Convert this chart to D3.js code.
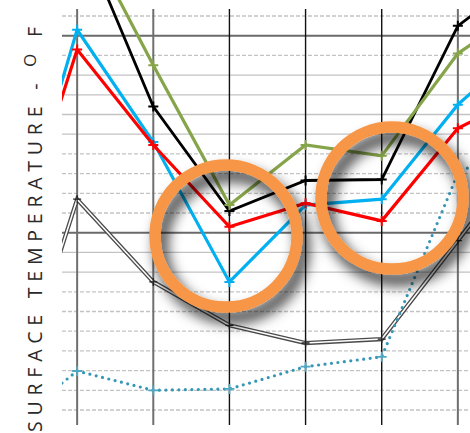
<!DOCTYPE html>
<html>
<head>
<meta charset="utf-8">
<script src="https://cdn.jsdelivr.net/npm/d3@7/dist/d3.min.js"></script>
<style>
  html, body { margin: 0; padding: 0; background: #fff; }
  svg { display: block; }
</style>
</head>
<body>
<div id="chart"></div>
<script>
// ---------- DATA ----------
const categories = [0, 1, 2, 3, 4, 5, 6, 7];
const blueValues  = [67.2, 80.3, 74.6, 67.5, 71.4, 71.7, 76.5, 79.9];
const redValues   = [67.2, 79.3, 74.45, 70.3, 71.5, 70.6, 75.3, 77.2];
const blackValues = [85.0, 85.6, 76.4, 71.1, 72.65, 72.7, 80.5, 83.4];
const greenValues = [86.0, 85.9, 78.5, 71.4, 74.45, 73.9, 79.1, 81.7];
const grayValues  = [59.6, 71.7, 67.5, 65.3, 64.4, 64.6, 69.6, 74.65];
const dottedValues = [59.9, 62.98, 62.0, 62.07, 63.2, 63.7, 73.0, 75.2];
const gridValues = d3.range(81, 60, -1);          // 81 .. 61
const majorGrid = [80, 70];
const verticalCats = [1, 2, 3, 4, 5, 6];
const highlightCats = [[2.955, 69.83], [5.135, 71.76]]; // ring centres (category, value)
const axisTitle = "SURFACE TEMPERATURE - ";
const axisTitleSup = "O";
const axisTitleEnd = "F";

// ---------- LAYOUT ----------
const W = 470, H = 433;
const svg = d3.select("#chart").append("svg").attr("width", W).attr("height", H);

const x = d3.scaleLinear().domain([0, 7]).range([1, 534]);
const y = d3.scaleLinear().domain([61, 81]).range([410, 16]);

const defs = svg.append("defs");
defs.append("clipPath").attr("id", "plotclip")
  .append("rect").attr("x", 62).attr("y", 0).attr("width", W - 62).attr("height", H);
const f = defs.append("filter").attr("id", "shadow")
  .attr("x", "-50%").attr("y", "-50%").attr("width", "200%").attr("height", "200%");
f.append("feDropShadow").attr("dx", 6).attr("dy", 10).attr("stdDeviation", 7)
  .attr("flood-color", "#000").attr("flood-opacity", 0.85);

// ---------- GRID ----------
const grid = svg.append("g").attr("clip-path", "url(#plotclip)");
const solidMinor = [78, 77, 76, 75, 69, 68];
grid.selectAll("line.h").data(gridValues).join("line")
  .attr("class", "h")
  .attr("x1", 62).attr("x2", W)
  .attr("y1", d => y(d)).attr("y2", d => y(d))
  .attr("stroke", d => majorGrid.includes(d) ? "#6a6a6a" : "#c3c3c3")
  .attr("stroke-width", d => majorGrid.includes(d) ? 2 : 1.3)
  .attr("stroke-dasharray", d => (majorGrid.includes(d) || solidMinor.includes(d)) ? null : "4,2");

grid.selectAll("line.v").data(verticalCats).join("line")
  .attr("class", "v")
  .attr("x1", d => x(d)).attr("x2", d => x(d))
  .attr("y1", 9).attr("y2", 425)
  .attr("stroke", d => (d === 1 || d === 2 || d === 6) ? "#6f6f6f" : "#111")
  .attr("stroke-width", d => (d === 1 || d === 2 || d === 6) ? 2 : 1.4);

// ---------- SERIES ----------
const plot = svg.append("g").attr("clip-path", "url(#plotclip)");
const line = d3.line().x((d, i) => x(categories[i])).y(d => y(d));

function plus(g, values, color, size, width) {
  const pts = values.map((v, i) => [x(categories[i]), y(v)]);
  g.selectAll(null).data(pts).join("path")
    .attr("d", p => `M${p[0]-size},${p[1]}H${p[0]+size}M${p[0]},${p[1]-size}V${p[1]+size}`)
    .attr("stroke", color).attr("stroke-width", width).attr("fill", "none");
}

// gray double line
const gG = plot.append("g");
gG.append("path").attr("d", line(grayValues)).attr("fill", "none")
  .attr("stroke", "#4a4a4a").attr("stroke-width", 4.2).attr("stroke-linejoin", "miter");
gG.append("path").attr("d", line(grayValues)).attr("fill", "none")
  .attr("stroke", "#fff").attr("stroke-width", 1.6).attr("stroke-linejoin", "miter");
plus(gG, grayValues, "#222", 4, 1.3);

// dotted teal
const gD = plot.append("g");
gD.append("path").attr("d", line(dottedValues)).attr("fill", "none")
  .attr("stroke", "#3596b5").attr("stroke-width", 3.2)
  .attr("stroke-dasharray", "0,6.5").attr("stroke-linecap", "round");
plus(gD, dottedValues, "#4ea8c4", 5, 1.8);

const solidSeries = [
  [blueValues, "#00b0f0", 3.2],
  [redValues, "#ff0000", 3.2],
  [blackValues, "#000000", 2.8],
  [greenValues, "#86a44a", 3.2]
];
solidSeries.forEach(([vals, col, w]) => {
  const g = plot.append("g");
  g.append("path").attr("d", line(vals)).attr("fill", "none")
    .attr("stroke", col).attr("stroke-width", w).attr("stroke-linejoin", "miter");
  plus(g, vals, col, 5, 2);
});

// ---------- HIGHLIGHT RINGS ----------
svg.append("g").selectAll("circle").data(highlightCats).join("circle")
  .attr("cx", d => x(d[0])).attr("cy", d => y(d[1]))
  .attr("r", 71)
  .attr("fill", "none")
  .attr("stroke", "#f79646").attr("stroke-width", 11.5)
  .attr("filter", "url(#shadow)");

// ---------- AXIS TITLE ----------
const t = svg.append("text")
  .attr("transform", "translate(42,432) rotate(-90)")
  .attr("text-anchor", "start")
  .attr("textLength", 405)
  .attr("lengthAdjust", "spacing")
  .attr("font-family", "'Open Sans', Lato, 'DejaVu Sans', sans-serif")
  .attr("font-weight", 400)
  .attr("font-size", 19.5)
  .attr("fill", "#2a2a2a");
t.append("tspan").text(axisTitle);
t.append("tspan").attr("dy", -6).attr("font-size", 17).text(axisTitleSup);
t.append("tspan").attr("dy", 6).text(" " + axisTitleEnd);
</script>
</body>
</html>
